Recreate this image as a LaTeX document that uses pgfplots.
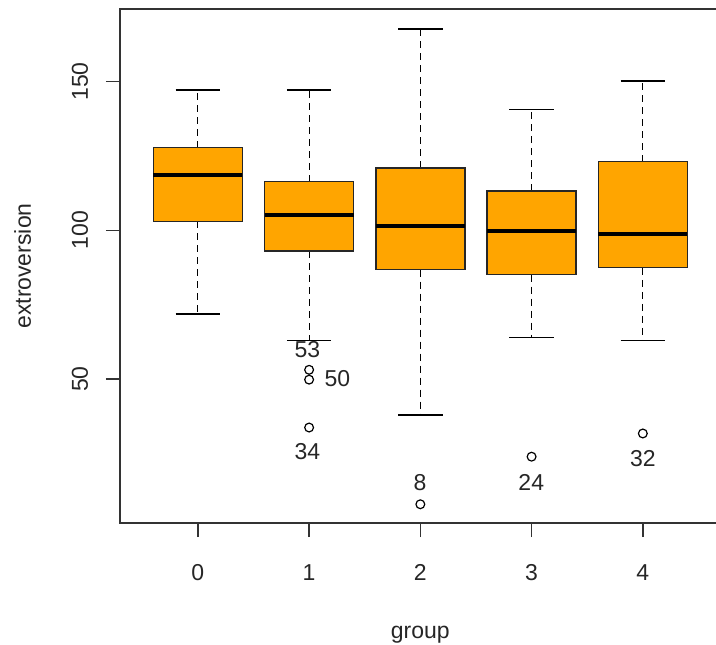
\documentclass[border=0pt]{standalone}
\usepackage{pgfplots}
\pgfplotsset{compat=1.18}
\usepackage{fontspec}
\setmainfont{Liberation Sans}
\definecolor{boxorange}{HTML}{FFA500}
\definecolor{axgray}{HTML}{333333}
\begin{document}
\fontsize{11.5}{13.8}\selectfont
\begin{tikzpicture}[font=\fontsize{11.5}{13.8}\selectfont]
\begin{axis}[
  scale only axis,
  width=300.35pt, height=257pt,
  xmin=-0.7, xmax=4.7,
  ymin=1.6, ymax=174.4,
  xtick={0,1,2,3,4},
  ytick={50,100,150},
  tick pos=left,
  tick align=outside,
  major tick length=7pt,
  tick style={axgray, line width=0.8pt},
  axis line style={axgray, line width=1pt},
  /pgf/number format/assume math mode=true,
  xticklabel style={anchor=base, text=black!85},
  yticklabel style={rotate=90, anchor=base, text=black!85},
  xticklabel shift=21.9pt,
  yticklabel shift=9pt,
  xlabel={group},
  ylabel={extroversion},
  every axis x label/.style={at={([yshift=-57.9pt]axis description cs:0.5,0)}, anchor=base, text=black!85},
  every axis y label/.style={at={([xshift=-44.5pt]axis description cs:0,0.5)}, anchor=base, rotate=90, text=black!85},
  unbounded coords=jump,
  clip=false,
]
\coordinate (sw) at (rel axis cs:0,0);

% whisker stems (dashed)
\addplot[black, line width=0.6pt, dash pattern=on 3.5pt off 2.5pt] coordinates {
  (0,127.8) (0,147.1) (0,nan) (0,103.0) (0,71.9) (0,nan)
  (1,116.4) (1,147.1) (1,nan) (1,93.0) (1,62.9) (1,nan)
  (2,121.0) (2,167.6) (2,nan) (2,86.8) (2,38.0) (2,nan)
  (3,113.2) (3,140.6) (3,nan) (3,85.1) (3,63.9) (3,nan)
  (4,123.1) (4,150.1) (4,nan) (4,87.4) (4,62.9)
};
% whisker caps
\addplot[black, line width=0.8pt] coordinates {
  (-0.2,147.1) (0.2,147.1) (0,nan) (-0.2,71.9) (0.2,71.9) (0,nan)
  (0.8,147.1) (1.2,147.1) (1,nan) (0.8,62.9) (1.2,62.9) (1,nan)
  (1.8,167.6) (2.2,167.6) (2,nan) (1.8,38.0) (2.2,38.0) (2,nan)
  (2.8,140.6) (3.2,140.6) (3,nan) (2.8,63.9) (3.2,63.9) (3,nan)
  (3.8,150.1) (4.2,150.1) (4,nan) (3.8,62.9) (4.2,62.9)
};
% boxes
\addplot[fill=boxorange, draw=black!85, line width=0.7pt, line join=miter] coordinates {(-0.4,103.0) (0.4,103.0) (0.4,127.8) (-0.4,127.8)} -- cycle;
\addplot[fill=boxorange, draw=black!85, line width=0.7pt, line join=miter] coordinates {(0.6,93.0) (1.4,93.0) (1.4,116.4) (0.6,116.4)} -- cycle;
\addplot[fill=boxorange, draw=black!85, line width=0.7pt, line join=miter] coordinates {(1.6,86.8) (2.4,86.8) (2.4,121.0) (1.6,121.0)} -- cycle;
\addplot[fill=boxorange, draw=black!85, line width=0.7pt, line join=miter] coordinates {(2.6,85.1) (3.4,85.1) (3.4,113.2) (2.6,113.2)} -- cycle;
\addplot[fill=boxorange, draw=black!85, line width=0.7pt, line join=miter] coordinates {(3.6,87.4) (4.4,87.4) (4.4,123.1) (3.6,123.1)} -- cycle;
% medians
\addplot[black, line width=2pt] coordinates {
  (-0.4,118.5) (0.4,118.5) (0,nan)
  (0.6,105.0) (1.4,105.0) (1,nan)
  (1.6,101.3) (2.4,101.3) (2,nan)
  (2.6,99.7) (3.4,99.7) (3,nan)
  (3.6,98.8) (4.4,98.8)
};
% outliers
\addplot[only marks, mark=o, mark size=2.2pt, black, mark options={line width=0.6pt}] coordinates {
  (1,53.1) (1,49.8) (1,33.7) (2,7.9) (3,23.9) (4,31.7)
};

\node[text=black!85] at (axis cs:0.985,59.9) {53};
\node[text=black!85] at (axis cs:1.255,50.0) {50};
\node[text=black!85] at (axis cs:0.985,25.6) {34};
\node[text=black!85] at (axis cs:1.998,15.1) {8};
\node[text=black!85] at (axis cs:2.997,15.2) {24};
\node[text=black!85] at (axis cs:4.0,23.3) {32};
\end{axis}
\pgfresetboundingbox
\path[use as bounding box] ([shift={(-60pt,-60.5pt)}]sw) rectangle ([shift={(298pt,261.5pt)}]sw);
\end{tikzpicture}
\end{document}
